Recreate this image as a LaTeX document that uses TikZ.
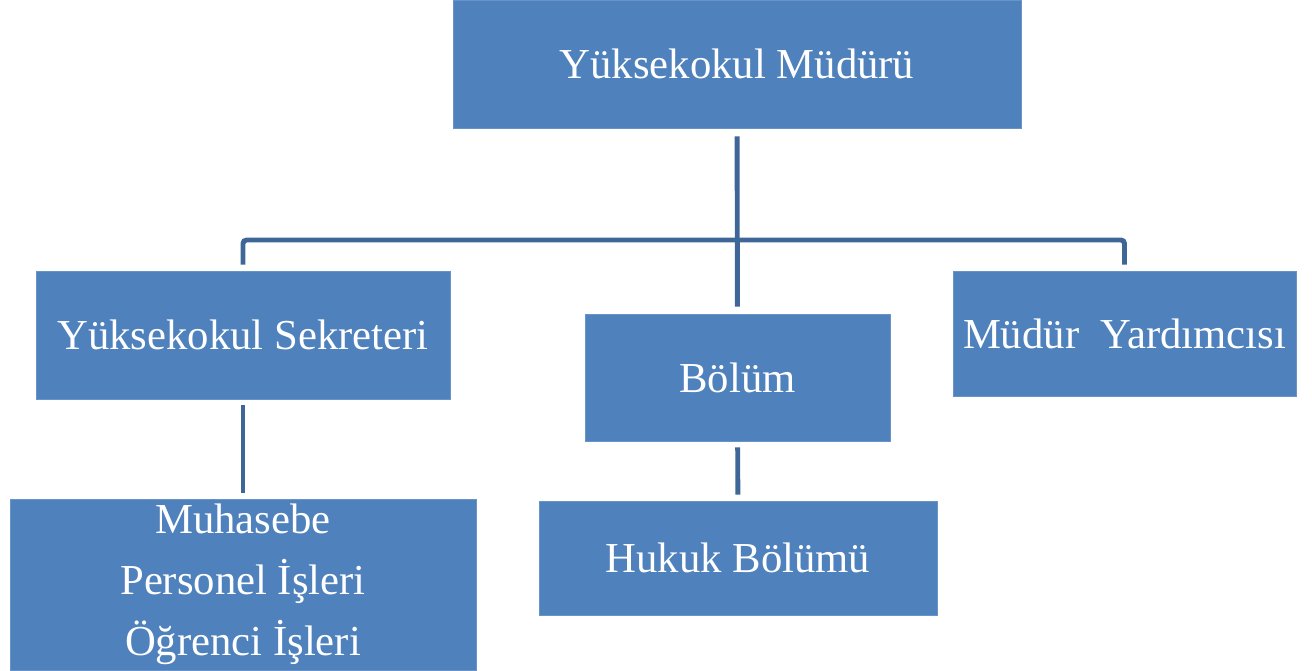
\documentclass[tikz,border=0pt]{standalone}
\usepackage{fontspec}
\setmainfont{Liberation Serif}
\definecolor{kutumavi}{HTML}{4F81BD}
\definecolor{cizgimavi}{HTML}{3E6797}
\begin{document}
\begin{tikzpicture}[
            x=0.02cm, y=-0.02cm,
            kutu/.style={shape=rectangle, fill=kutumavi, draw=kutumavi!85!white, text=white, align=center, inner sep=0pt, font=\fontsize{24.3}{34.8}\selectfont},
            baglanti/.style={draw=cizgimavi, line width=2.8pt},
        ]
        \useasboundingbox (0, 0) rectangle (1312, 670);
        \node[kutu, minimum width=11.36cm, minimum height=2.56cm] (mudur) at (737, 64) {Yüksekokul Müdürü};
        \node[kutu, minimum width=8.28cm, minimum height=2.56cm] (sekreter) at (243, 335) {Yüksekokul Sekreteri};
        \node[kutu, minimum width=6.10cm, minimum height=2.54cm] (bolum) at (737.5, 377.5) {Bölüm};
        \node[kutu, minimum width=6.86cm, minimum height=2.50cm] (yardimci) at (1124.5, 333.5) {Müdür\ \ Yardımcısı};
        \node[kutu, minimum width=9.32cm, minimum height=3.42cm] (muhasebe) at (243, 584.5) {Muhasebe\\Personel İşleri\\Öğrenci İşleri};
        \node[kutu, minimum width=7.96cm, minimum height=2.28cm] (hukuk) at (738, 558) {Hukuk Bölümü};
        \coordinate (bar) at (737, 240);

        \draw[baglanti, shorten <=0.16cm, shorten >=0.14cm] (mudur) -- (bolum);
        \draw[baglanti, rounded corners=2pt] ([yshift=0.12cm]sekreter.north) |- (bar) -| ([yshift=0.12cm]yardimci.north);
        \draw[baglanti, shorten <=0.12cm, shorten >=0.12cm] (sekreter) -- (muhasebe);
        \draw[baglanti, shorten <=0.12cm, shorten >=0.12cm] (bolum) -- (hukuk);

    \end{tikzpicture}
\end{document}
